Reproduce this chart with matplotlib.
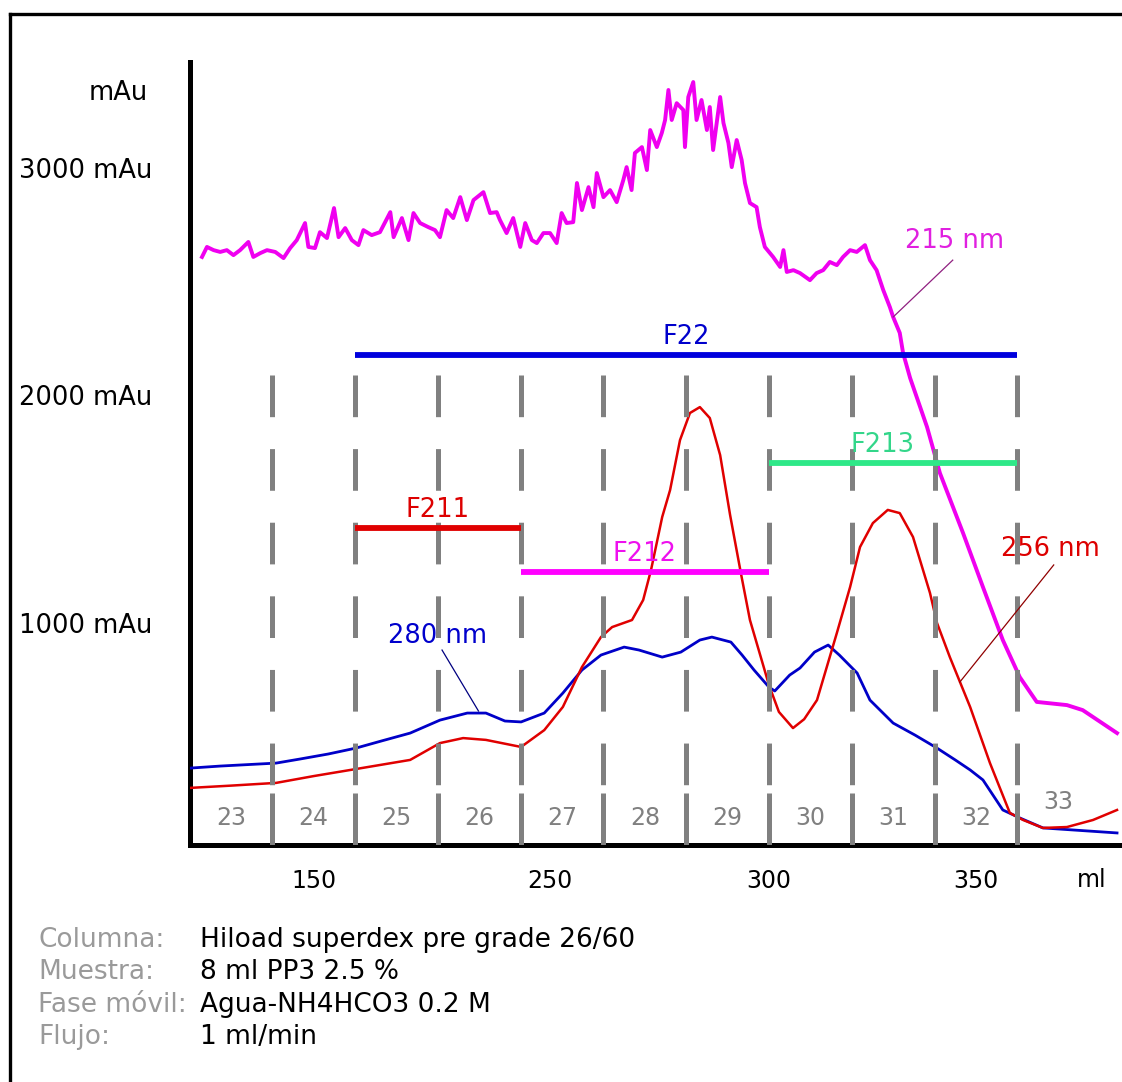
import matplotlib
matplotlib.use("Agg")
import matplotlib.pyplot as plt
from matplotlib.lines import Line2D

# 280 nm trace (ml, mAu)
ml_280 = [160.1, 167.4, 180.9, 186.7, 193.5, 200.2, 206.5, 213.3, 220.5, 227.1,
          231.6, 236.2, 240.1, 245.7, 250.2, 254.8, 259.4, 265.0, 268.6, 274.2,
          278.7, 283.3, 286.2, 290.8, 293.5, 296.4, 300.0, 301.4, 305.0, 307.5,
          311.0, 314.3, 317.0, 321.3, 324.4, 330.0, 335.3, 340.6, 345.0, 348.6,
          351.7, 356.5, 360.6, 366.2, 384.1]
mau_280 = [360, 369, 382, 400, 422, 448, 480, 514, 571, 602,
           602, 567, 563, 602, 690, 791, 857, 892, 879, 848,
           870, 923, 936, 914, 857, 791, 716, 699, 769, 800,
           870, 901, 857, 778, 659, 558, 505, 448, 396, 352,
           308, 176, 141, 97, 75]

# 256 nm trace
ml_256 = [160.1, 170.0, 180.9, 190.0, 200.2, 213.3, 220.5, 226.1, 231.6, 240.1,
          245.7, 250.2, 254.8, 259.4, 262.1, 266.9, 269.6, 271.5, 274.2, 276.1,
          278.5, 280.9, 283.3, 285.7, 288.2, 290.6, 293.2, 295.4, 300.0, 302.4,
          305.8, 308.5, 311.6, 316.4, 319.6, 322.0, 325.1, 328.7, 331.6, 334.8,
          338.9, 340.6, 343.7, 348.6, 353.4, 358.2, 361.4, 366.2, 372.0, 378.3,
          384.1]
mau_256 = [273, 283, 295, 325, 356, 396, 470, 492, 484, 453,
           527, 629, 804, 936, 980, 1011, 1099, 1231, 1464, 1582,
           1802, 1921, 1947, 1899, 1736, 1473, 1218, 1011, 725, 607,
           536, 575, 659, 954, 1156, 1332, 1437, 1495, 1481, 1376,
           1130, 998, 848, 629, 382, 163, 132, 97, 101, 132,
           176]

# 215 nm trace (noisy)
ml_215 = [163.0, 164.2, 165.8, 167.4, 169.0, 170.6, 172.2, 174.2, 175.4, 177.1,
          178.7, 180.7, 182.7, 184.3, 185.9, 187.9, 188.7, 190.3, 191.5, 193.2,
          194.9, 196.0, 197.6, 199.2, 200.8, 202.0, 204.0, 206.0, 208.5, 209.3,
          211.3, 212.9, 214.1, 215.7, 217.7, 219.3, 220.5, 222.1, 223.7, 225.4,
          227.0, 228.6, 231.0, 232.6, 234.2, 235.0, 236.6, 238.2, 239.9, 241.1,
          242.7, 243.9, 245.5, 247.1, 248.7, 249.9, 251.1, 252.7, 253.6, 254.8,
          256.4, 257.6, 258.4, 260.0, 261.6, 263.2, 264.8, 265.6, 266.8, 267.6,
          269.3, 270.5, 271.3, 272.9, 274.1, 274.9, 275.7, 276.5, 277.7, 279.3,
          279.7, 280.5, 281.7, 282.5, 283.7, 285.0, 285.7, 286.5, 288.2, 289.0,
          290.2, 291.0, 292.2, 293.4, 294.2, 295.4, 297.0, 297.8, 299.0, 301.0,
          302.7, 303.5, 304.3, 305.9, 307.5, 309.9, 311.5, 313.1, 314.7, 316.4,
          317.9, 319.6, 321.2, 323.2, 324.4, 326.0, 327.6, 329.2, 330.0, 331.6,
          332.4, 334.1, 338.2, 341.3, 346.9, 351.7, 356.5, 360.6, 364.7, 372.0,
          375.8, 384.1]
mau_215 = [2607, 2651, 2637, 2629, 2637, 2615, 2637, 2673, 2607, 2624,
           2637, 2629, 2602, 2646, 2681, 2756, 2651, 2646, 2716, 2690,
           2822, 2694, 2734, 2681, 2659, 2725, 2703, 2716, 2804, 2694,
           2778, 2681, 2800, 2756, 2738, 2725, 2694, 2813, 2778, 2870,
           2769, 2857, 2892, 2800, 2804, 2769, 2712, 2778, 2651, 2756,
           2681, 2668, 2712, 2712, 2668, 2800, 2756, 2760, 2932, 2813,
           2914, 2826, 2976, 2870, 2901, 2848, 2945, 3002, 2901, 3064,
           3090, 2989, 3165, 3090, 3152, 3209, 3341, 3209, 3283, 3253,
           3090, 3310, 3376, 3209, 3297, 3165, 3266, 3077, 3310, 3196,
           3108, 3002, 3121, 3033, 2932, 2844, 2826, 2738, 2651, 2607,
           2563, 2637, 2541, 2549, 2536, 2505, 2536, 2549, 2585, 2571,
           2607, 2637, 2629, 2659, 2593, 2549, 2462, 2387, 2343, 2273,
           2185, 2075, 1859, 1657, 1393, 1156, 923, 760, 651, 637,
           615, 514]

# fraction cuts (ml) and tube numbers
fraction_edges = [180, 200, 220, 240, 260, 280, 300, 320, 340, 360]
fraction_names = ["23", "24", "25", "26", "27", "28", "29", "30", "31", "32", "33"]

# pooled fractions
pool_names = ["F22", "F211", "F212", "F213"]
pool_start = [200, 200, 240, 300]
pool_end = [360, 240, 300, 360]
pool_level = [2176, 1415, 1222, 1701]
pool_colors = ["#0000dd", "#e00000", "#ff00ff", "#2ee888"]
pool_text_colors = ["#0000cc", "#dd0000", "#ee10ee", "#33d68a"]

xtick_pos = [190, 247, 300, 350]
xtick_labels = ["150", "250", "300", "350"]
ytick_pos = [1000, 2000, 3000]
ytick_labels = ["1000 mAu", "2000 mAu", "3000 mAu"]

info_keys = ["Columna:", "Muestra:", "Fase móvil:", "Flujo:"]
info_values = ["Hiload superdex pre grade 26/60", "8 ml PP3 2.5 %",
               "Agua-NH4HCO3 0.2 M", "1 ml/min"]

plt.rcParams["lines.scale_dashes"] = False
FS = 18.5
W, H = 1122, 1082

fig = plt.figure(figsize=(W / 100, H / 100), dpi=100, facecolor="white")
ax = fig.add_axes([190 / W, (H - 845) / H, 932 / W, (845 - 62) / H])
ax.set_xlim(160.1, 385.3)
ax.set_ylim(22, 3464)

for side in ["top", "right"]:
    ax.spines[side].set_visible(False)
for side in ["left", "bottom"]:
    ax.spines[side].set_linewidth(3.6)
    ax.spines[side].set_color("black")

ax.set_xticks(xtick_pos)
ax.set_xticklabels(xtick_labels, fontsize=17)
ax.set_yticks(ytick_pos)
ax.set_yticklabels(ytick_labels, fontsize=FS)
ax.tick_params(axis="x", length=0, pad=17)
ax.tick_params(axis="y", length=0, pad=27)

# traces
ax.plot(ml_215, mau_215, color="#f000f0", lw=2.8, zorder=2)
ax.plot(ml_280, mau_280, color="#0000c8", lw=2.0, zorder=3)
ax.plot(ml_256, mau_256, color="#e00000", lw=1.8, zorder=3)

# fraction cuts: dashed above, solid near the baseline
for e in fraction_edges:
    ax.plot([e, e], [2088, 250], color="#808080", lw=3.6,
            linestyle=(0, (30, 23)), solid_capstyle="butt", zorder=4)
    ax.plot([e, e], [250, 22], color="#808080", lw=3.6,
            solid_capstyle="butt", zorder=4)

edges = [160] + fraction_edges + [380]
for i, name in enumerate(fraction_names):
    xc = (edges[i] + edges[i + 1]) / 2
    yc = 211 if i == len(fraction_names) - 1 else 141
    ax.text(xc, yc, name, color="#808080", fontsize=17, ha="center", va="center", zorder=5)

# pool bars
for name, a, b, lev, c, tc in zip(pool_names, pool_start, pool_end, pool_level,
                                  pool_colors, pool_text_colors):
    ax.plot([a, b], [lev, lev], color=c, lw=4.2, solid_capstyle="butt", zorder=5)
    xm = (a + b) / 2
    if name == "F213":
        xm -= 2.5
    ax.annotate(name, (xm, lev), xytext=(0, 13), textcoords="offset points",
                ha="center", va="center", color=tc, fontsize=FS, zorder=6)

# wavelength labels with leader lines
ax.text(219.8, 941, "280 nm", color="#0000cc", fontsize=FS, ha="center", va="center")
ax.plot([221.0, 229.8], [879, 611], color="#000080", lw=0.9, zorder=6)
ax.text(344.9, 2677, "215 nm", color="#e020e0", fontsize=FS, ha="center", va="center")
ax.plot([344.4, 330.0], [2593, 2343], color="#902080", lw=0.9, zorder=6)
ax.text(367.9, 1323, "256 nm", color="#dd0000", fontsize=FS, ha="center", va="center")
ax.plot([368.8, 346.1], [1253, 738], color="#900000", lw=0.9, zorder=6)

# unit labels
fig.text(148 / W, 1 - 93 / H, "mAu", fontsize=FS, ha="right", va="center")
fig.text(1092 / W, 1 - 880 / H, "ml", fontsize=17, ha="center", va="center")

# run conditions
for i, (k, v) in enumerate(zip(info_keys, info_values)):
    yy = 1 - (940 + 32.3 * i) / H
    fig.text(38 / W, yy, k, color="#9a9a9a", fontsize=19, ha="left", va="center")
    fig.text(200 / W, yy, v, color="black", fontsize=19, ha="left", va="center")

# outer frame (left and top edges)
fig.add_artist(Line2D([10 / W, 10 / W], [0, 1 - 14 / H], color="black", lw=2.4,
                      transform=fig.transFigure))
fig.add_artist(Line2D([10 / W, 1], [1 - 14 / H, 1 - 14 / H], color="black", lw=2.4,
                      transform=fig.transFigure))

fig.savefig("out.png", dpi=100, facecolor="white")
